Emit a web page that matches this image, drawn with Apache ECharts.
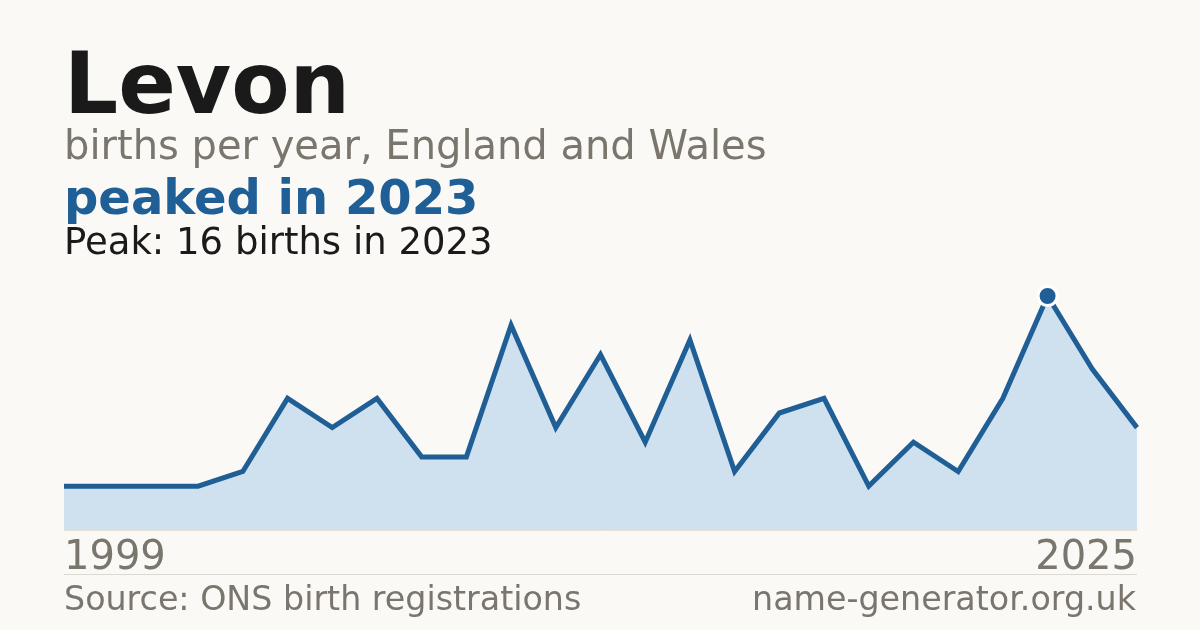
<!DOCTYPE html>
<html>
<head>
<meta charset="utf-8">
<style>
  html, body { margin: 0; padding: 0; background: #faf9f5; }
  #chart { width: 1200px; height: 630px; }
</style>
<script src="https://cdn.jsdelivr.net/npm/echarts@6/dist/echarts.min.js"></script>
</head>
<body>
<div id="chart"></div>
<script>
const years = ['1999','2000','2001','2004','2005','2006','2007','2008','2009','2010','2011','2012','2013','2014','2015','2016','2017','2018','2019','2020','2021','2022','2023','2024','2025'];
const births = [3,3,3,3,4,9,7,9,5,5,14,7,12,6,13,4,8,9,3,6,4,9,16,11,7];
const titleText = 'Levon';
const subtitleText = 'births per year, England and Wales';
const headlineText = 'peaked in 2023';
const peakText = 'Peak: 16 births in 2023';
const sourceText = 'Source: ONS birth registrations';
const siteText = 'name-generator.org.uk';

const FONT = 'DejaVu Sans';
const BLUE = '#1f5f96';
const GREY = '#7a756d';

const peakIdx = births.indexOf(Math.max(...births));

const chart = echarts.init(document.getElementById('chart'), null, { renderer: 'canvas' });
chart.setOption({
  backgroundColor: '#faf9f5',
  animation: false,
  grid: { left: 64, right: 63, top: 237.5, bottom: 100 },
  xAxis: {
    type: 'category',
    data: years,
    boundaryGap: false,
    axisLine: { show: true, lineStyle: { color: '#e6dfd2', width: 1 } },
    axisTick: { show: false },
    splitLine: { show: false },
    axisLabel: {
      interval: (i) => i === 0 || i === years.length - 1,
      color: GREY,
      fontFamily: FONT,
      fontSize: 40,
      margin: 9,
      alignMinLabel: 'left',
      alignMaxLabel: 'right'
    }
  },
  yAxis: { type: 'value', min: 0, max: 20, show: false, splitLine: { show: false } },
  series: [
    {
      type: 'line',
      data: births,
      showSymbol: false,
      lineStyle: { color: BLUE, width: 5, join: 'miter' },
      areaStyle: { color: '#cfe0ef', opacity: 1 },
      z: 2
    },
    {
      type: 'scatter',
      data: [[peakIdx, births[peakIdx]]],
      symbol: 'circle',
      symbolSize: 19,
      itemStyle: { color: BLUE, borderColor: '#ffffff', borderWidth: 3, opacity: 1 },
      z: 3
    }
  ],
  graphic: [
    { type: 'text', left: 64, top: 48, style: { text: titleText, font: 'bold 85px "DejaVu Sans"', fill: '#1a1a1a' } },
    { type: 'text', left: 64, top: 129, style: { text: subtitleText, font: '40px "DejaVu Sans"', fill: GREY } },
    { type: 'text', left: 64, top: 178, style: { text: headlineText, font: 'bold 48px "DejaVu Sans"', fill: BLUE } },
    { type: 'text', left: 64, top: 225.5, style: { text: peakText, font: '37px "DejaVu Sans"', fill: '#1a1a1a' } },
    { type: 'rect', shape: { x: 64, y: 574, width: 1073, height: 1 }, style: { fill: '#dcd9d2' } },
    { type: 'text', left: 64, top: 584.5, style: { text: sourceText, font: '33.3px "DejaVu Sans"', fill: GREY } },
    { type: 'text', right: 64, top: 584.5, style: { text: siteText, font: '33.3px "DejaVu Sans"', fill: GREY, textAlign: 'right' } }
  ]
});
</script>
</body>
</html>
